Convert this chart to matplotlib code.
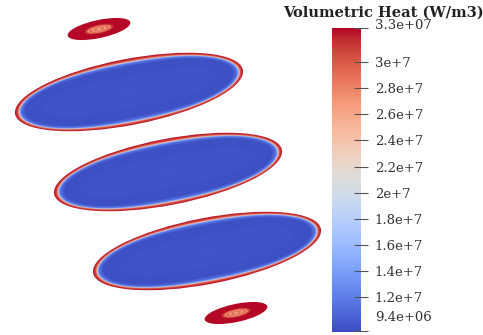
import matplotlib
matplotlib.use("Agg")
import matplotlib.pyplot as plt
import numpy as np
from matplotlib.patches import Ellipse
from matplotlib.cm import ScalarMappable
from matplotlib.colors import Normalize
from matplotlib.transforms import ScaledTranslation

W, H = 483, 335

# cross-sections of the heated bodies (screen pixels, y pointing down)
cx = [99, 129, 168, 207, 236]
cy = [29, 92, 172, 251, 313]
semi_a = [32, 116, 116, 116, 32]
semi_b = [9, 33, 33, 33, 9]
tilt = [12, 11, 11, 11, 12]          # degrees, anticlockwise on screen
kind = ["small", "big", "big", "big", "small"]

# big bodies: heat against depth below the surface (px)
big_d = [0.0, 2.3, 3.2, 3.8, 5.0, 8.0, 40.0]
big_q = [3.26e7, 3.05e7, 2.55e7, 1.55e7, 1.15e7, 9.6e6, 1.0e7]
# small bodies: heat against normalised radius
small_r = [0.0, 0.06, 0.13, 0.2, 0.27, 0.34, 0.42, 0.5, 1.0]
small_q = [2.2e7, 2.6e7, 3.1e7, 2.5e7, 3.05e7, 2.7e7, 3.15e7, 3.25e7, 3.25e7]

vmin, vmax = 9.35e6, 3.26e7
cbar_ticks = [9.4e6, 1.2e7, 1.4e7, 1.6e7, 1.8e7, 2.0e7, 2.2e7, 2.4e7, 2.6e7,
              2.8e7, 3.0e7, 3.26e7]
cbar_labels = ["9.4e+06", "1.2e+7", "1.4e+7", "1.6e+7", "1.8e+7", "2e+7",
               "2.2e+7", "2.4e+7", "2.6e+7", "2.8e+7", "3e+7", "3.3e+07"]

cmap = plt.get_cmap("coolwarm")
norm = Normalize(vmin=vmin, vmax=vmax)

fig = plt.figure(figsize=(W / 100, H / 100), dpi=100)
ax = fig.add_axes([0, 0, 1, 1])
ax.set_xlim(0, W)
ax.set_ylim(H, 0)
ax.axis("off")

step = 0.25
for x0, y0, a, b, t, k in zip(cx, cy, semi_a, semi_b, tilt, kind):
    phi = np.deg2rad(-t)
    xs = np.arange(x0 - a - 2, x0 + a + 2, step)
    ys = np.arange(y0 - a - 2, y0 + a + 2, step)
    X, Y = np.meshgrid(xs, ys)
    u = (X - x0) * np.cos(phi) + (Y - y0) * np.sin(phi)
    v = -(X - x0) * np.sin(phi) + (Y - y0) * np.cos(phi)
    r = np.sqrt((u / a) ** 2 + (v / b) ** 2)
    if k == "big":
        # rim gets thicker towards the tips
        depth = (1 - r) * b * (1 + 2.0 * (u / a) ** 2)
        q = np.interp(depth, big_d, big_q)
    else:
        q = np.interp(r, small_r, small_q)
    im = ax.imshow(q, cmap=cmap, norm=norm, origin="upper",
                   extent=(xs[0], xs[-1], ys[-1], ys[0]),
                   interpolation="bilinear")
    clip = Ellipse((x0, y0), 2 * a, 2 * b, angle=-t,
                   facecolor="none", edgecolor="none")
    ax.add_patch(clip)
    im.set_clip_path(clip)

# colour legend
cax = fig.add_axes([332 / W, 3 / H, 29 / W, 304 / H])
cb = fig.colorbar(ScalarMappable(norm=norm, cmap=cmap), cax=cax)
cb.outline.set_visible(False)
cb.set_ticks(cbar_ticks)
cb.set_ticklabels(cbar_labels)
cax.tick_params(direction="inout", length=10, width=0.8, color="#555555",
                pad=5, labelsize=9.5, labelcolor="#333333")
labels = cax.get_yticklabels()
for lab in labels:
    lab.set_fontfamily("DejaVu Serif")
# end labels are nudged up off their ticks
labels[0].set_va("bottom")
labels[0].set_transform(labels[0].get_transform() +
                        ScaledTranslation(0, 5 / 72, fig.dpi_scale_trans))
labels[-1].set_transform(labels[-1].get_transform() +
                         ScaledTranslation(0, 3 / 72, fig.dpi_scale_trans))

fig.text(383 / W, 1 - 13 / H, "Volumetric Heat (W/m3)", ha="center",
         va="center", fontsize=10.5, fontweight="bold", family="DejaVu Serif",
         color="#222222")

fig.savefig("out.png", dpi=100)
